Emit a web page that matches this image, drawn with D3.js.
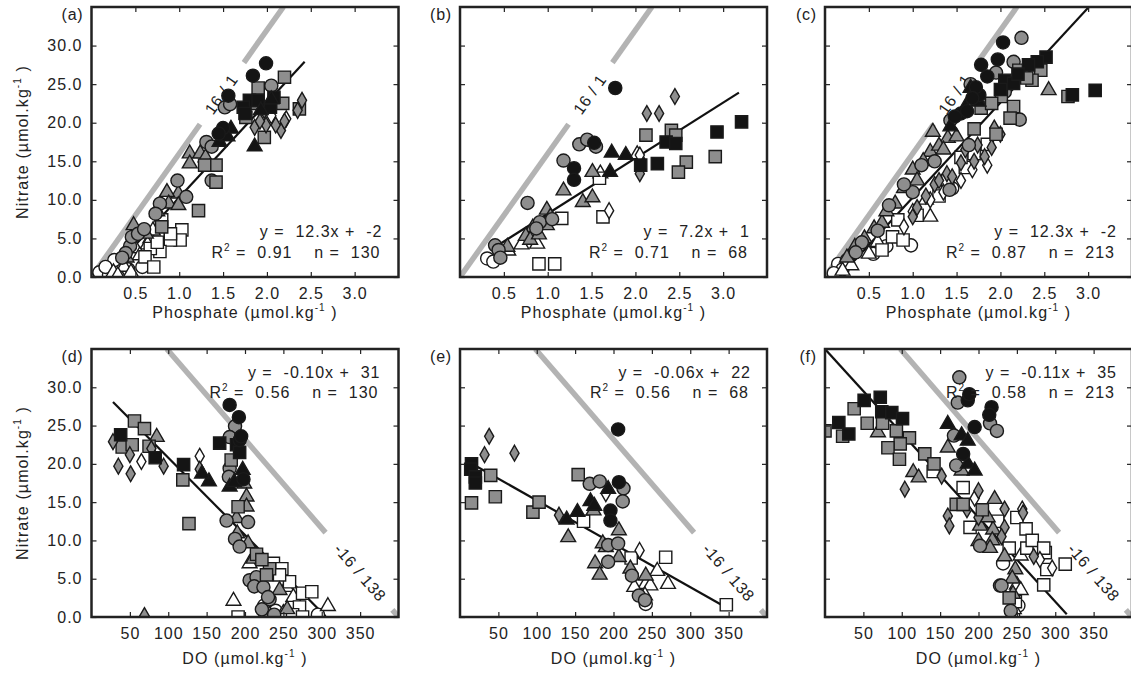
<!DOCTYPE html>
<html>
<head>
<meta charset="utf-8">
<script src="https://cdn.jsdelivr.net/npm/d3@7"></script>
<style>
  body { margin: 0; background: #fff; }
  svg { font-family: "Liberation Sans", Arial, sans-serif; }
</style>
</head>
<body>
<svg width="1131" height="673"></svg>
<script>
// points: [x, nitrate, marker]  marker = shape (o s t d) + fill (W G B)
var pointsA = [
  [0.05,0.1,"tW"],[0.12,0.2,"oW"],[0.18,0.1,"tG"],[0.33,0.1,"tW"],[0.09,0.6,"oW"],[0.2,0.3,"oW"],
  [0.26,2.2,"oW"],[0.16,1.3,"oW"],[0.58,1.3,"oW"],[0.42,1.0,"oW"],
  [0.77,7.2,"tW"],[0.67,5.0,"tW"],[0.5,3.7,"tW"],[0.37,1.3,"tW"],[0.25,0.6,"tW"],[0.64,4.2,"tW"],[0.55,2.8,"tW"],[0.45,0.6,"tW"],[0.3,0.2,"tW"],[0.7,6.0,"tW"],
  [1.03,6.1,"sW"],[1.01,4.8,"sW"],[0.9,4.8,"sW"],[0.78,3.3,"sW"],[0.67,3.7,"sW"],[0.61,2.6,"sW"],[0.71,1.3,"sW"],[0.8,7.4,"sW"],[0.9,5.6,"sW"],[0.75,4.5,"sW"],
  [2.22,20.5,"dW"],[2.05,20.9,"dW"],
  [1.12,16.0,"tG"],[1.24,16.0,"tG"],[1.12,14.7,"tG"],[0.99,10.8,"tG"],[0.86,11.0,"tG"],[0.88,9.5,"tG"],[0.99,9.3,"tG"],[0.48,6.7,"tG"],[0.4,2.5,"tG"],[0.62,5.6,"tG"],[1.3,15.5,"tG"],[0.75,8.5,"tG"],
  [2.05,24.8,"oG"],[1.52,22.0,"oG"],[1.58,22.4,"oG"],[1.31,17.5,"oG"],[1.37,16.9,"oG"],[1.37,12.5,"oG"],[0.98,12.5,"oG"],[1.08,10.4,"oG"],[0.78,9.5,"oG"],[0.73,8.2,"oG"],[0.44,4.0,"oG"],[0.46,5.2,"oG"],[0.53,5.6,"oG"],[0.39,3.1,"oG"],[0.35,2.5,"oG"],[0.6,6.2,"oG"],
  [2.2,25.9,"sG"],[1.9,24.5,"sG"],[1.76,20.7,"sG"],[2.18,22.5,"sG"],[1.97,18.1,"sG"],[1.42,14.5,"sG"],[1.29,14.5,"sG"],[1.42,12.3,"sG"],[1.22,8.6,"sG"],[0.8,6.5,"sG"],[2.37,21.8,"sG"],[1.85,22.5,"sG"],
  [1.97,21.6,"dG"],[1.86,19.4,"dG"],[1.99,19.7,"dG"],[2.16,19.0,"dG"],[2.1,19.7,"dG"],[2.35,21.6,"dG"],[2.4,22.9,"dG"],[1.92,20.2,"dG"],[2.2,20.2,"dG"],
  [1.8,22.9,"sB"],[1.9,22.9,"sB"],[1.73,22.0,"sB"],[2.08,23.3,"sB"],[2.04,22.0,"sB"],[1.75,21.2,"sB"],
  [1.59,19.2,"tB"],[1.5,18.8,"tB"],[1.46,17.5,"tB"],[1.86,16.9,"tB"],[1.93,21.6,"tB"],[2.05,23.0,"tB"],[1.55,18.2,"tB"],
  [1.99,27.7,"oB"],[1.84,26.1,"oB"],[1.56,23.5,"oB"],[1.5,19.3,"oB"],[1.45,18.6,"oB"]
];

var pointsB = [
  [0.31,2.4,"oW"],[0.38,2.0,"oW"],
  [0.83,5.7,"tW"],[0.88,4.3,"tW"],[0.7,4.2,"tW"],[0.55,3.4,"tW"],[1.6,13.4,"tW"],[2.02,15.9,"tW"],
  [1.63,7.8,"sW"],[1.59,12.8,"sW"],[1.16,7.6,"sW"],[0.9,1.7,"sW"],[1.08,1.7,"sW"],
  [2.05,15.8,"dW"],[1.7,8.6,"dW"],
  [1.51,13.6,"tG"],[1.18,11.2,"tG"],[1.4,9.7,"tG"],[1.51,10.3,"tG"],[0.99,8.7,"tG"],[1.03,7.8,"tG"],[0.99,6.7,"tG"],[0.83,6.4,"tG"],[0.75,5.3,"tG"],[0.8,4.8,"tG"],[0.54,3.9,"tG"],[0.9,5.5,"tG"],
  [1.36,17.2,"oG"],[1.45,17.8,"oG"],[1.55,16.9,"oG"],[1.18,15.1,"oG"],[0.77,9.6,"oG"],[0.91,7.1,"oG"],[0.87,6.3,"oG"],[0.4,4.1,"oG"],[0.44,3.5,"oG"],[0.46,2.5,"oG"],[1.05,7.5,"oG"],
  [2.12,18.4,"sG"],[2.41,19.0,"sG"],[2.46,18.4,"sG"],[2.58,14.9,"sG"],[2.49,13.6,"sG"],[2.91,15.6,"sG"],
  [2.45,23.4,"dG"],[2.13,21.2,"dG"],[2.27,21.2,"dG"],[2.05,13.4,"dG"],
  [2.35,17.5,"sB"],[2.46,17.3,"sB"],[2.25,14.7,"sB"],[2.06,14.5,"sB"],[2.93,18.8,"sB"],[3.21,20.1,"sB"],
  [1.73,16.1,"tB"],[1.89,15.8,"tB"],[1.71,13.6,"tB"],
  [1.77,24.5,"oB"],[1.53,17.4,"oB"],[1.3,14.1,"oB"],[1.3,12.6,"oB"]
];

var pointsC = [
  [0.98,4.1,"oW"],[0.15,1.7,"oW"],[0.2,1.0,"oW"],[0.7,4.0,"oW"],[0.25,2.2,"oW"],[0.1,0.5,"oW"],[1.45,11.5,"oW"],[0.55,3.0,"oW"],
  [1.2,7.8,"tW"],[0.6,4.5,"tW"],[0.3,1.5,"tW"],[1.15,10.0,"tW"],[0.5,3.0,"tW"],[0.2,0.8,"tW"],
  [0.83,7.4,"sW"],[0.77,5.2,"sW"],[0.89,4.8,"sW"],[1.4,12.5,"sW"],[1.6,14.2,"sW"],[1.7,16.0,"sW"],[1.85,17.2,"sW"],[1.55,15.5,"sW"],[1.05,8.0,"sW"],[0.65,3.5,"sW"],[1.3,10.5,"sW"],
  [1.68,13.9,"dW"],[1.55,12.5,"dW"],[1.2,10.0,"dW"],[1.85,14.5,"dW"],[1.0,8.5,"dW"],[0.9,6.5,"dW"],[1.35,11.0,"dW"],
  [2.55,24.2,"tG"],[1.23,18.8,"tG"],[1.4,18.0,"tG"],[1.2,16.2,"tG"],[1.0,13.9,"tG"],[0.56,6.3,"tG"],[0.34,3.9,"tG"],[1.12,15.0,"tG"],[0.9,11.5,"tG"],[0.8,9.5,"tG"],[0.65,7.0,"tG"],[1.3,17.0,"tG"],[1.5,18.2,"tG"],[0.45,5.0,"tG"],[0.25,2.5,"tG"],[1.05,12.5,"tG"],[1.35,16.5,"tG"],[0.7,8.5,"tG"],
  [1.93,19.3,"dG"],[1.74,17.1,"dG"],[1.82,15.6,"dG"],[1.39,13.4,"dG"],[1.0,7.8,"dG"],[1.55,14.8,"dG"],[1.6,16.5,"dG"],[1.25,12.0,"dG"],[1.15,10.5,"dG"],[1.9,16.8,"dG"],[1.45,13.0,"dG"],[1.3,12.5,"dG"],[1.7,15.0,"dG"],[1.05,9.0,"dG"],[2.0,18.5,"dG"],
  [2.24,31.0,"oG"],[2.15,27.9,"oG"],[1.43,20.3,"oG"],[1.64,17.1,"oG"],[1.42,11.3,"oG"],[1.0,11.0,"oG"],[0.73,9.3,"oG"],[2.22,20.4,"oG"],[1.66,25.0,"oG"],[1.95,26.5,"oG"],[1.1,14.5,"oG"],[0.9,12.0,"oG"],[0.6,6.0,"oG"],[0.42,4.5,"oG"],[0.35,3.2,"oG"],[1.25,15.0,"oG"],[2.05,24.0,"oG"],[1.8,22.5,"oG"],
  [2.46,26.8,"sG"],[2.36,25.5,"sG"],[2.21,26.8,"sG"],[2.01,23.4,"sG"],[1.78,21.9,"sG"],[2.15,22.1,"sG"],[2.11,20.6,"sG"],[1.9,22.5,"sG"],[2.77,23.4,"sG"],[2.3,25.8,"sG"],[1.95,18.5,"sG"],[1.7,19.2,"sG"],
  [2.52,28.5,"sB"],[2.42,27.9,"sB"],[2.32,27.5,"sB"],[2.05,25.5,"sB"],[2.15,25.1,"sB"],[2.82,23.6,"sB"],[3.08,24.2,"sB"],[2.2,26.3,"sB"],[2.0,24.3,"sB"],
  [1.66,24.5,"tB"],[1.7,23.4,"tB"],[1.43,19.5,"tB"],[1.6,22.0,"tB"],[1.75,22.7,"tB"],
  [2.03,30.4,"oB"],[1.97,28.2,"oB"],[1.78,27.5,"oB"],[1.76,23.6,"oB"],[1.72,24.6,"oB"],[1.55,21.2,"oB"],[1.62,21.5,"oB"],[1.48,20.8,"oB"],[1.85,26.0,"oB"],[1.68,23.2,"oB"]
];

var pointsD = [
  [225,1.5,"oW"],[260,0.3,"oW"],[295,0.3,"oW"],[240,0.8,"oW"],
  [206,7.0,"tW"],[185,2.1,"tW"],[308,1.4,"tW"],[254,3.9,"tW"],[263,2.6,"tW"],[225,0.3,"tW"],[250,0.5,"tW"],[270,0.5,"tW"],
  [237,7.0,"sW"],[248,6.3,"sW"],[258,4.6,"sW"],[275,3.1,"sW"],[287,3.3,"sW"],[271,1.3,"sW"],[245,5.5,"sW"],[191,0,"sW"],[262,0.3,"sW"],[275,0,"sW"],
  [65,20.3,"dW"],[141,21.0,"dW"],
  [85,23.5,"tG"],[199,17.4,"tG"],[202,15.7,"tG"],[202,14.4,"tG"],[189,12.9,"tG"],[190,10.9,"tG"],[204,9.6,"tG"],[211,7.6,"tG"],[245,3.5,"tG"],[69,0.1,"tG"],[232,0.3,"tG"],[255,1.0,"tG"],
  [187,24.9,"oG"],[180,23.5,"oG"],[180,19.4,"oG"],[179,18.3,"oG"],[176,12.6,"oG"],[204,12.4,"oG"],[187,10.2,"oG"],[193,9.2,"oG"],[206,4.8,"oG"],[215,5.2,"oG"],[212,4.0,"oG"],[224,3.9,"oG"],[232,2.3,"oG"],[222,1.0,"oG"],[238,0.3,"oG"],[230,2.6,"oG"],
  [56,25.6,"sG"],[69,24.6,"sG"],[40,22.2,"sG"],[53,22.5,"sG"],[75,22.3,"sG"],[119,17.9,"sG"],[127,12.2,"sG"],[191,14.4,"sG"],[182,20.5,"sG"],[215,8.2,"sG"],[232,6.3,"sG"],[222,7.5,"sG"],[228,5.5,"sG"],
  [28,22.9,"dG"],[35,19.7,"dG"],[51,18.7,"dG"],[50,21.2,"dG"],[78,22.0,"dG"],[94,19.7,"dG"],[141,19.3,"dG"],
  [38,23.8,"sB"],[120,19.9,"sB"],[167,22.7,"sB"],[189,22.5,"sB"],[193,21.5,"sB"],[83,20.8,"sB"],
  [153,17.7,"tB"],[144,18.7,"tB"],[197,19.2,"tB"],[180,17.0,"tB"],[186,17.6,"tB"],
  [180,27.7,"oB"],[192,26.1,"oB"],[193,23.1,"oB"],[195,23.6,"oB"],[198,18.0,"oB"]
];

var pointsE = [
  [242,1.7,"oW"],
  [242,4.3,"tW"],[248,4.1,"tW"],[257,6.0,"tW"],[271,4.3,"tW"],[227,3.9,"tW"],[241,2.8,"tW"],
  [161,12.5,"sW"],[223,7.7,"sW"],[268,7.8,"sW"],[347,1.6,"sW"],
  [234,8.7,"dW"],[190,16.1,"dW"],
  [141,10.4,"tG"],[207,11.3,"tG"],[190,9.1,"tG"],[176,7.0,"tG"],[207,7.8,"tG"],[222,6.3,"tG"],[182,5.5,"tG"],[242,5.4,"tG"],[174,13.9,"tG"],[186,9.6,"tG"],
  [169,17.4,"oG"],[182,17.7,"oG"],[213,16.8,"oG"],[212,15.1,"oG"],[193,9.4,"oG"],[206,9.6,"oG"],[193,7.2,"oG"],[224,5.4,"oG"],[233,2.8,"oG"],[241,2.2,"oG"],
  [38,23.6,"dG"],[32,21.2,"dG"],[71,21.4,"dG"],[129,13.3,"dG"],
  [154,18.6,"sG"],[40,18.5,"sG"],[46,15.7,"sG"],[15,14.9,"sG"],[95,13.7,"sG"],[103,15.0,"sG"],
  [15,20.0,"sB"],[14,19.3,"sB"],[20,18.3,"sB"],[20,17.5,"sB"],
  [153,13.7,"tB"],[139,12.7,"tB"],[170,15.1,"tB"],[175,14.5,"tB"],[193,16.7,"tB"],
  [206,24.5,"oB"],[207,17.6,"oB"],[196,13.9,"oB"],[196,12.6,"oB"]
];

var pointsF = [
  [245,0.2,"oW"],[252,1.5,"oW"],[232,7.0,"oW"],
  [246,1.0,"tW"],[250,4.2,"tW"],[255,3.5,"tW"],[255,8.0,"tW"],
  [141,19.0,"sW"],[180,16.9,"sW"],[250,13.0,"sW"],[189,11.7,"sW"],[263,9.0,"sW"],[287,8.4,"sW"],[313,6.9,"sW"],[289,6.2,"sW"],[285,4.2,"sW"],[248,2.0,"sW"],[225,12.5,"sW"],[240,9.0,"sW"],[262,11.5,"sW"],[270,10.0,"sW"],[285,9.0,"sW"],
  [257,14.1,"dW"],[296,6.4,"dW"],[280,7.5,"dW"],[195,15.5,"dW"],
  [115,18.9,"tG"],[122,18.2,"tG"],[160,22.1,"tG"],[69,24.1,"tG"],[178,19.1,"tG"],[221,15.4,"tG"],[202,11.9,"tG"],[219,11.4,"tG"],[234,7.9,"tG"],[248,6.2,"tG"],[200,9.9,"tG"],[245,3.0,"tG"],[244,5.0,"tG"],[212,13.0,"tG"],[218,10.0,"tG"],[215,9.0,"tG"],
  [104,16.7,"dG"],[152,18.4,"dG"],[160,13.2,"dG"],[162,11.9,"dG"],[200,16.5,"dG"],[234,14.1,"dG"],[258,13.6,"dG"],[234,11.7,"dG"],[272,7.9,"dG"],[230,10.5,"dG"],[200,13.0,"dG"],[185,14.0,"dG"],
  [175,31.3,"oG"],[173,28.0,"oG"],[215,25.3,"oG"],[224,24.3,"oG"],[168,23.7,"oG"],[171,19.8,"oG"],[202,9.3,"oG"],[228,4.1,"oG"],[242,0.8,"oG"],[230,4.1,"oG"],
  [0,24.3,"sG"],[38,27.2,"sG"],[55,25.3,"sG"],[75,25.3,"sG"],[23,23.6,"sG"],[93,24.3,"sG"],[110,23.4,"sG"],[98,22.6,"sG"],[82,22.1,"sG"],[97,20.6,"sG"],[130,21.3,"sG"],[142,20.0,"sG"],[171,14.7,"sG"],[180,14.7,"sG"],[205,14.0,"sG"],[240,2.5,"sG"],
  [51,28.3,"sB"],[72,28.7,"sB"],[74,26.8,"sB"],[87,26.7,"sB"],[18,25.4,"sB"],[31,23.9,"sB"],[101,25.9,"sB"],
  [160,25.2,"tB"],[178,23.7,"tB"],[186,23.0,"tB"],[186,20.0,"tB"],[195,19.1,"tB"],
  [186,28.3,"oB"],[188,29.1,"oB"],[217,27.4,"oB"],[214,26.4,"oB"],[195,24.8,"oB"],[180,21.3,"oB"]
];

var panelTags = ["(a)", "(b)", "(c)", "(d)", "(e)", "(f)"];
var panelPoints = [pointsA, pointsB, pointsC, pointsD, pointsE, pointsF];
var panelKind = ["P", "P", "P", "D", "D", "D"];
// regression line: slope, intercept, x start, x end
var fitSlope = [12.3, 7.2, 12.3, -0.101, -0.0567, -0.11];
var fitIntercept = [-2, 1, -2, 30.9, 20.9, 35];
var fitFrom = [0.163, 0.45, 0.163, 28, 12, 0];
var fitTo = [2.43, 3.18, 3.01, 305, 340, 315];
var eqText = ["y =  12.3x +  -2", "y =  7.2x +  1", "y =  12.3x +  -2",
              "y =  -0.10x +  31", "y =  -0.06x +  22", "y =  -0.11x +  35"];
var r2Text = ["0.91", "0.71", "0.87", "0.56", "0.56", "0.58"];
var nText = ["130", "68", "213", "130", "68", "213"];

var phosTicks = [0.5, 1.0, 1.5, 2.0, 2.5, 3.0];
var doTicks = [50, 100, 150, 200, 250, 300, 350];
var nitTicks = [0, 5, 10, 15, 20, 25, 30];

var colLeft = [91.5, 460, 825];
var rowTop = [7, 349];
var rowH = [270, 268];
var panelW = 307;

var fills = { W: "#ffffff", G: "#8e8e8e", B: "#141414" };
var shapes = { o: [d3.symbolCircle, 135], s: [d3.symbolSquare, 150],
               t: [d3.symbolTriangle, 95], d: [d3.symbolDiamond, 72] };

var svg = d3.select("svg");

function labelText(sel, size, spacing) {
  return sel.style("font-size", size + "px").style("letter-spacing", spacing + "px")
    .style("white-space", "pre").style("fill", "#222");
}

panelTags.forEach(function (tag, i) {
  var col = i % 3, row = Math.floor(i / 3);
  var left = colLeft[col], top = rowTop[row], h = rowH[row];
  var isP = panelKind[i] === "P";

  var x = d3.scaleLinear().domain(isP ? [0, 3.5] : [0, 400]).range([0, panelW]);
  var y = d3.scaleLinear().domain([0, 35]).range([h, 0]);

  var g = svg.append("g").attr("transform", "translate(" + left + "," + top + ")");

  g.append("clipPath").attr("id", "clip" + i)
    .append("rect").attr("width", panelW).attr("height", h);

  var plot = g.append("g").attr("clip-path", "url(#clip" + i + ")");

  // reference ratio line, broken where its label sits
  var ratio, gap, lab, labStr;
  if (isP) {
    ratio = function (v) { return 16 * v; };
    gap = [19.8 / 16, 27.8 / 16];
    ratio.range = [0, 35 / 16];
    lab = [1.48, 16 * 1.48];
    labStr = "16 / 1";
  } else {
    ratio = function (v) { return 16 / 138 * (400 - v); };
    gap = [305, 392];
    ratio.range = [400 - 35 * 138 / 16, 400];
    lab = [350, 16 / 138 * 50];
    labStr = "-16 / 138";
  }
  var segs = [[ratio.range[0], gap[0]], [gap[1], ratio.range[1]]];
  plot.selectAll("line.ratio").data(segs).enter().append("line")
    .attr("class", "ratio")
    .attr("x1", function (d) { return x(d[0]); })
    .attr("y1", function (d) { return y(ratio(d[0])); })
    .attr("x2", function (d) { return x(d[1]); })
    .attr("y2", function (d) { return y(ratio(d[1])); })
    .style("stroke", "#b3b3b3").style("stroke-width", 5.5);

  var ang = Math.atan2(y(ratio(ratio.range[1])) - y(ratio(ratio.range[0])),
                       x(ratio.range[1]) - x(ratio.range[0])) * 180 / Math.PI;
  labelText(plot.append("text")
    .attr("transform", "translate(" + x(lab[0]) + "," + y(lab[1]) + ") rotate(" + ang + ")")
    .attr("text-anchor", "middle").attr("dy", "0.35em"), 16, 0.8)
    .text(labStr);

  // regression line
  var fit = [fitFrom[i], fitTo[i]].map(function (v) { return [v, fitSlope[i] * v + fitIntercept[i]]; });
  plot.append("path")
    .attr("d", d3.line().x(function (d) { return x(d[0]); }).y(function (d) { return y(d[1]); })(fit))
    .style("stroke", "#111").style("stroke-width", 2.2).style("fill", "none");

  // markers
  plot.selectAll("path.pt").data(panelPoints[i]).enter().append("path")
    .attr("class", "pt")
    .attr("transform", function (d) { return "translate(" + x(d[0]) + "," + y(d[1]) + ")"; })
    .attr("d", function (d) { var s = shapes[d[2][0]]; return d3.symbol(s[0], s[1])(); })
    .style("fill", function (d) { return fills[d[2][1]]; })
    .style("stroke", "#1a1a1a").style("stroke-width", 1.4);

  // axes, ticks pointing inward on all four sides
  var xt = isP ? phosTicks : doTicks;
  var fmt = isP ? d3.format(".1f") : d3.format("d");
  g.append("g").attr("transform", "translate(0," + h + ")")
    .call(d3.axisBottom(x).tickValues(xt).tickFormat(fmt).tickSize(-5).tickPadding(11));
  g.append("g").call(d3.axisTop(x).tickValues(xt).tickFormat("").tickSize(-5));
  g.append("g")
    .call(d3.axisLeft(y).tickValues(nitTicks).tickFormat(col === 0 ? d3.format(".1f") : "").tickSize(-5).tickPadding(9));
  g.append("g").attr("transform", "translate(" + panelW + ",0)")
    .call(d3.axisRight(y).tickValues(nitTicks).tickFormat("").tickSize(-5));
  g.selectAll(".domain").remove();
  g.selectAll(".tick line").style("stroke", "#222").style("stroke-width", 1.2);
  g.selectAll(".tick text").style("font-family", "Liberation Sans, Arial, sans-serif")
    .style("font-size", "16px").style("letter-spacing", "1px").style("fill", "#222");

  g.append("rect").attr("width", panelW).attr("height", h)
    .style("fill", "none").style("stroke", "#222").style("stroke-width", 2.5);

  // panel tag
  labelText(g.append("text").attr("x", -8).attr("y", 13).attr("text-anchor", "end"), 16, 0.8).text(tag);

  // fit statistics
  var ex = [291, 290, 292, 289, 291, 292][i];
  var ey = isP ? [230, 251] : [29, 49];
  labelText(g.append("text").attr("x", ex).attr("y", ey[0]).attr("text-anchor", "end"), 16, 1)
    .text(eqText[i]);
  var r2 = labelText(g.append("text").attr("x", ex - 2).attr("y", ey[1]).attr("text-anchor", "end"), 16, 1);
  r2.append("tspan").text("R");
  r2.append("tspan").attr("dy", -7).style("font-size", "10px").text("2");
  r2.append("tspan").attr("dy", 7).text(" =  " + r2Text[i] + "    n =  " + nText[i]);

  // axis titles
  var xt1 = labelText(g.append("text").attr("x", panelW / 2).attr("y", h + (isP ? 41 : 47))
    .attr("text-anchor", "middle"), 16, 1.1);
  xt1.append("tspan").text(isP ? "Phosphate (µmol.kg" : "DO (µmol.kg");
  xt1.append("tspan").attr("dy", -7).style("font-size", "10px").text("-1");
  xt1.append("tspan").attr("dy", 7).text(" )");

  if (col === 0) {
    var yt = labelText(g.append("text")
      .attr("transform", "translate(-64," + (h / 2) + ") rotate(-90)")
      .attr("text-anchor", "middle"), 16, 1.1);
    yt.append("tspan").text("Nitrate (µmol.kg");
    yt.append("tspan").attr("dy", -7).style("font-size", "10px").text("-1");
    yt.append("tspan").attr("dy", 7).text(" )");
  }
});
</script>
</body>
</html>
